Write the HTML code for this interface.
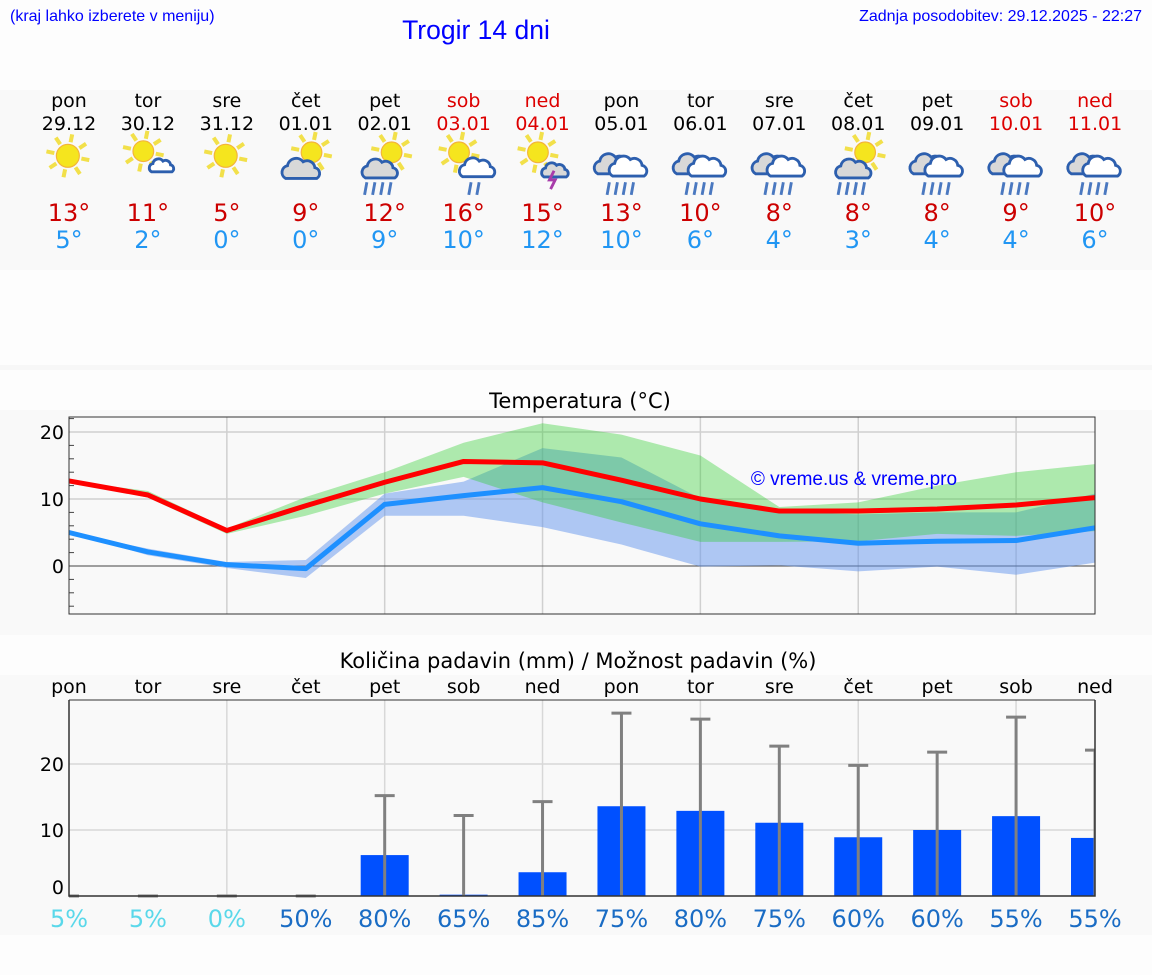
<!DOCTYPE html>
<html><head><meta charset="utf-8"><style>
html,body{margin:0;padding:0;background:#fdfdfd;width:1152px;height:975px;overflow:hidden;font-family:"DejaVu Sans","Liberation Sans",sans-serif;}
svg{display:block}
</style></head><body>
<svg id="s" width="1152" height="975" xmlns="http://www.w3.org/2000/svg">
<rect x="0" y="0" width="1152" height="975" fill="#fdfdfd"/>
<rect x="0" y="90" width="1152" height="180" fill="#f9f9f9"/>
<rect x="0" y="365" width="1152" height="5" fill="#f7f7f7"/>
<rect x="0" y="410" width="1152" height="225" fill="#f9f9f9"/>
<rect x="0" y="675" width="1152" height="260" fill="#f9f9f9"/>
<text x="10" y="21" font-family="Liberation Sans,sans-serif" font-size="16" fill="#0000ff">(kraj lahko izberete v meniju)</text>
<text x="476" y="39" font-family="Liberation Sans,sans-serif" font-size="26.5" fill="#0000ff" text-anchor="middle">Trogir 14 dni</text>
<text x="1142" y="21" font-family="Liberation Sans,sans-serif" font-size="16" fill="#0000ff" text-anchor="end">Zadnja posodobitev: 29.12.2025 - 22:27</text>
<text x="580" y="408" font-size="21" text-anchor="middle" fill="#000">Temperatura (°C)</text>
<text x="578" y="668" font-size="21" text-anchor="middle" fill="#000">Količina padavin (mm) / Možnost padavin (%)</text>
<g id="hdr"></g><g id="tc"></g><g id="pc"></g>
</svg>
<script>
const days=["pon","tor","sre","čet","pet","sob","ned","pon","tor","sre","čet","pet","sob","ned"];
const dates=["29.12","30.12","31.12","01.01","02.01","03.01","04.01","05.01","06.01","07.01","08.01","09.01","10.01","11.01"];
const icons=["sun","sunc","sun","sunC","sunR","sunR2","sunT","rain","rain","rain","sunR","rain","rain","rain"];
const hiLabel=[13,11,5,9,12,16,15,13,10,8,8,8,9,10];
const loLabel=[5,2,0,0,9,10,12,10,6,4,3,4,4,6];
const tMax=[12.7,10.6,5.3,9.0,12.5,15.6,15.4,12.8,10.0,8.2,8.2,8.5,9.1,10.2];
const tMin=[5.0,2.1,0.2,-0.4,9.2,10.5,11.7,9.6,6.3,4.5,3.4,3.7,3.8,5.7];
const maxLo=[12.7,10.2,4.8,7.5,10.8,13.3,9.5,6.5,3.6,3.6,3.7,4.8,4.5,5.2];
const maxHi=[12.7,11.2,5.6,10.3,14.0,18.4,21.3,19.6,16.5,8.8,9.5,12.0,14.0,15.2];
const minLo=[5.0,1.6,-0.3,-1.8,7.5,7.5,5.8,3.2,-0.1,0.1,-0.8,-0.1,-1.3,0.5];
const minHi=[5.0,2.6,0.6,0.9,10.8,12.6,17.6,16.2,10.1,8.1,7.7,8.0,8.0,10.8];
const tTicks=[0,10,20];
const rain=[0,0,0,0,6.2,0.2,3.6,13.6,12.9,11.1,8.9,10.0,12.1,8.8];
const rainMax=[0,0,0,0,15.2,12.2,14.3,27.7,26.8,22.7,19.8,21.8,27.1,22.1];
const prob=[5,5,0,50,80,65,85,75,80,75,60,60,55,55];
const pTicks=[0,10,20];
const NS="http://www.w3.org/2000/svg";
function mk(p,t,a,txt){const e=document.createElementNS(NS,t);for(const k in a)e.setAttribute(k,a[k]);if(txt!==undefined)e.textContent=txt;p.appendChild(e);return e;}
const X0=69,X1=1095;
const xs=i=>X0+i*(X1-X0)/13;
const ty=v=>566-v*6.7;
const py=v=>896-v*6.6;
const wk=i=>days[i]==="sob"||days[i]==="ned";
const H=document.getElementById('hdr');
function sun(g,cx,cy,r){for(let k=0;k<8;k++){const a=k*Math.PI/4+0.2;mk(g,'line',{x1:cx+Math.cos(a)*(r+2),y1:cy+Math.sin(a)*(r+2),x2:cx+Math.cos(a)*(r+9),y2:cy+Math.sin(a)*(r+9),stroke:'#f2e04a','stroke-width':3.5});}
mk(g,'circle',{cx:cx,cy:cy,r:r,fill:'#f5e51e',stroke:'#f3b33a','stroke-width':1});}
function cloud(g,cx,cy,s,fill){const p=`M${cx-16*s} ${cy+9*s} a${7*s} ${7*s} 0 0 1 ${2*s} ${-13*s} a${9*s} ${9*s} 0 0 1 ${16*s} ${-4*s} a${8*s} ${8*s} 0 0 1 ${12*s} ${6*s} a${6*s} ${6*s} 0 0 1 ${2*s} ${11*s} Z`;
mk(g,'path',{d:p,fill:fill,stroke:'#2d5fae','stroke-width':2.5});}
function drops(g,cx,cy,n){for(let k=0;k<n;k++){const x=cx-(n-1)*3.5+k*7;mk(g,'line',{x1:x,y1:cy,x2:x-2,y2:cy+11,stroke:'#4a78c0','stroke-width':2.5});}}
for(let i=0;i<14;i++){const x=xs(i);const c=wk(i)?'#dd0000':'#000';
const g=mk(H,'g',{});


mk(g,'text',{x:x,y:107,'font-size':19,'text-anchor':'middle',fill:c},days[i]);
mk(g,'text',{x:x,y:130,'font-size':19,'text-anchor':'middle',fill:c},dates[i]);
const ic=mk(g,'g',{transform:`translate(${x},165) scale(1.15) translate(${-x},-165)`});


const t=icons[i];
if(t==='sun'){sun(ic,x-1,157,10);}
else if(t==='sunc'){sun(ic,x-4,153,9);cloud(ic,x+12,166,0.55,'#fff');}
else if(t==='sunC'){sun(ic,x+5,154,9);cloud(ic,x-4,169,0.85,'#d8d8d8');}
else if(t==='sunR'){sun(ic,x+6,154,9);cloud(ic,x-4,169,0.8,'#d8d8d8');drops(ic,x-5,180,4);}
else if(t==='sunR2'){sun(ic,x-4,154,9);cloud(ic,x+12,168,0.8,'#fff');drops(ic,x+10,180,2);}
else if(t==='sunT'){sun(ic,x-4,154,9);cloud(ic,x+11,170,0.6,'#d8d8d8');mk(ic,'path',{d:`M${x+10} ${170} l-4 8 h5 l-4 8`,stroke:'#a83caa','stroke-width':2.5,fill:'none'});}
else {cloud(ic,x-7,165,0.85,'#d8d8d8');cloud(ic,x+6,167,0.85,'#fff');drops(ic,x,180,4);}
mk(g,'text',{x:x,y:221,'font-size':24,'text-anchor':'middle',fill:'#cc0000'},hiLabel[i]+'°');
mk(g,'text',{x:x,y:248,'font-size':24,'text-anchor':'middle',fill:'#2196f3'},loLabel[i]+'°');}
const T=document.getElementById('tc');
mk(T,'rect',{x:X0,y:417,width:X1-X0,height:197,fill:'#f9f9f9'});
for(let i=2;i<13;i+=2)mk(T,'line',{x1:xs(i),y1:417,x2:xs(i),y2:614,stroke:'#d0d0d0','stroke-width':1.5});
for(const v of tTicks){mk(T,'line',{x1:X0,y1:ty(v),x2:X1,y2:ty(v),stroke:v===0?'#444':'#d0d0d0','stroke-width':v===0?1:1.5});
const l=mk(T,'text',{x:64,y:ty(v)+7,'font-size':19,'text-anchor':'end',fill:'#000'},v);
}
for(let v=-6;v<=22;v+=2){if(v%10)mk(T,'line',{x1:X0,y1:ty(v),x2:X0+5,y2:ty(v),stroke:'#444','stroke-width':1});}
function band(lo,hi,fill,op,name){let d='';for(let i=0;i<14;i++)d+=(i?'L':'M')+xs(i)+' '+ty(hi[i]);for(let i=13;i>=0;i--)d+='L'+xs(i)+' '+ty(lo[i]);
const p=mk(T,'path',{d:d+'Z',fill:fill,'fill-opacity':op});}
band(minLo,minHi,'#6495ed',0.5,'min-temp-range');
band(maxLo,maxHi,'#29cd29',0.365,'max-temp-range');
function line(v,c,name){const p=mk(T,'polyline',{points:v.map((a,i)=>xs(i)+','+ty(a)).join(' '),fill:'none',stroke:c,'stroke-width':5,'stroke-linejoin':'round'});}
line(tMin,'#1e90ff','min-temp-line');line(tMax,'#ff0000','max-temp-line');
mk(T,'rect',{x:X0,y:417,width:X1-X0,height:197,fill:'none',stroke:'#333','stroke-width':1});
const wm=mk(T,'text',{x:854,y:485,'font-size':19,'font-family':'Liberation Sans,sans-serif','text-anchor':'middle',fill:'#0000ff'},'© vreme.us & vreme.pro');

const P=document.getElementById('pc');
mk(P,'rect',{x:X0,y:700,width:X1-X0,height:196,fill:'#f9f9f9'});
for(let i=2;i<13;i+=2)mk(P,'line',{x1:xs(i),y1:700,x2:xs(i),y2:896,stroke:'#d8d8d8','stroke-width':1.5});
for(const v of pTicks){if(v)mk(P,'line',{x1:X0,y1:py(v),x2:X1,y2:py(v),stroke:'#d8d8d8','stroke-width':1.5});
const l=mk(P,'text',{x:64,y:py(v)+(v?7:-2),'font-size':19,'text-anchor':'end',fill:'#000'},v);
}
mk(P,'clipPath',{id:'pcl'});mk(document.getElementById('pcl'),'rect',{x:X0,y:690,width:X1-X0,height:210});
const PG=mk(P,'g',{'clip-path':'url(#pcl)'});
for(let i=0;i<14;i++){const x=xs(i);
const b=mk(PG,'rect',{x:x-24,y:py(rain[i]),width:48,height:896-py(rain[i]),fill:'#0050ff'});

const e=mk(PG,'g',{});
mk(e,'line',{x1:x,y1:896,x2:x,y2:py(rainMax[i]),stroke:'#808080','stroke-width':3});
mk(e,'line',{x1:x-10,y1:py(rainMax[i]),x2:x+10,y2:py(rainMax[i]),stroke:'#808080','stroke-width':3});
const d=mk(P,'text',{x:x,y:693,'font-size':19,'text-anchor':'middle',fill:'#000'},days[i]);

const pr=mk(P,'text',{x:x,y:927,'font-size':24,'text-anchor':'middle',fill:prob[i]<=25?'#5ad8ea':'#1a6cc4'},prob[i]+'%');
}
mk(P,'polyline',{points:`${X0},700 ${X0},896 ${X1},896 ${X1},700`,fill:'none',stroke:'#333','stroke-width':1.5});
mk(P,'line',{x1:X0,y1:700,x2:X1,y2:700,stroke:'#333','stroke-width':1});
</script>
</body></html>
